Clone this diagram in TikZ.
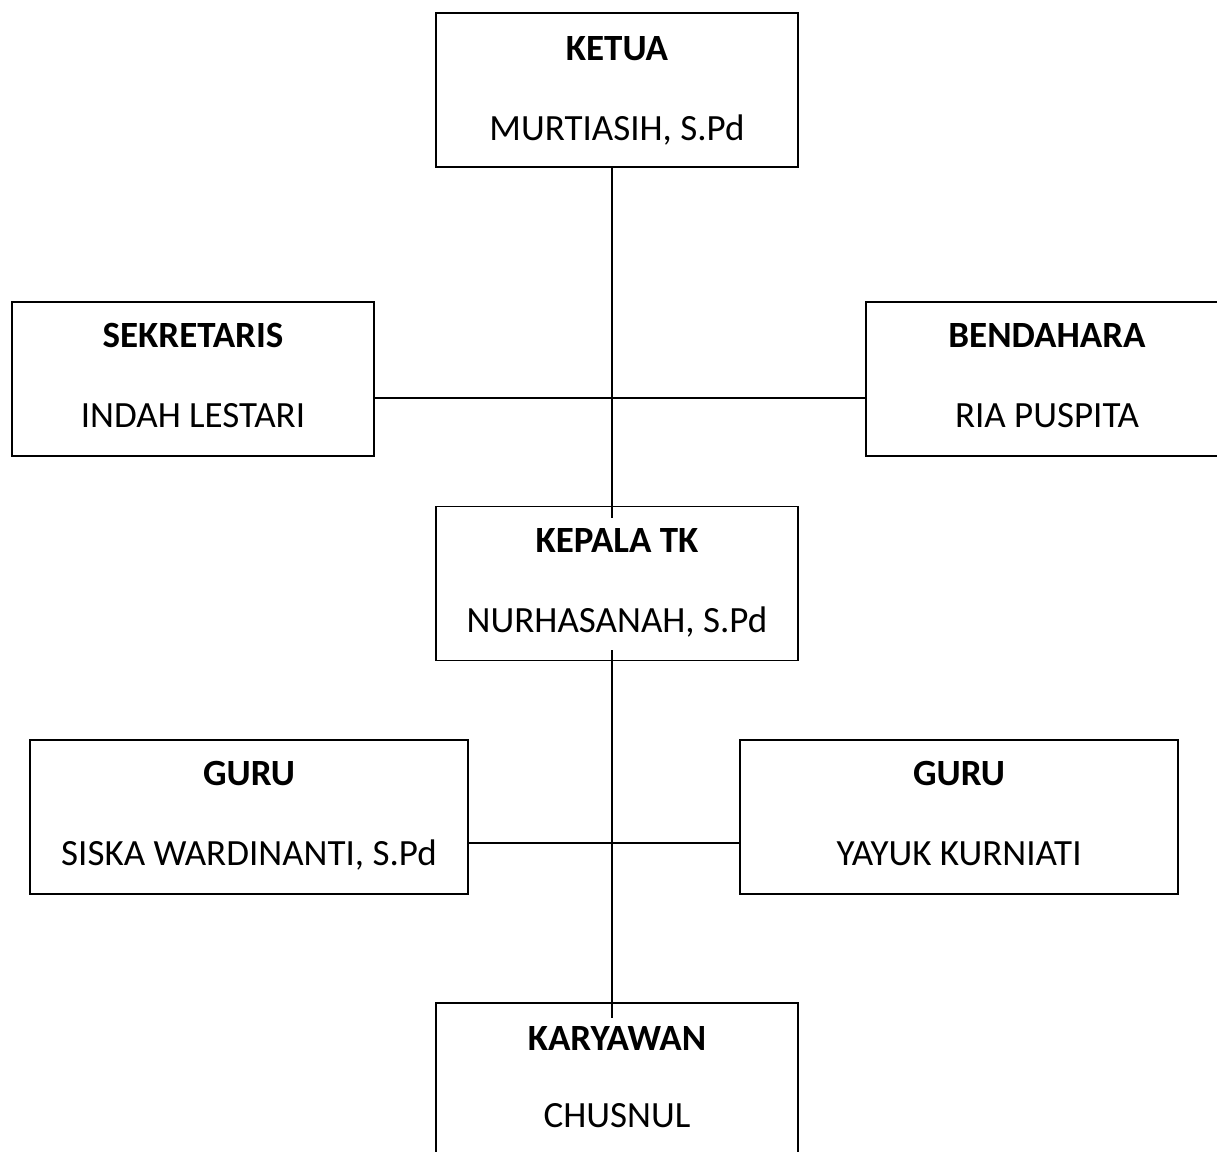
\documentclass[tikz,border=0pt]{standalone}
\usepackage{fontspec}
\setmainfont{Carlito}
\begin{document}
\begin{tikzpicture}[x=1pt,y=-1pt,
  orgbox/.style={draw=black,line width=1.6pt,fill=white,inner sep=0pt,minimum height=154pt},
  title/.style={font=\fontsize{37}{44}\selectfont\bfseries,anchor=base,inner sep=0pt},
  person/.style={font=\fontsize{37}{44}\selectfont,anchor=base,inner sep=0pt},
  link/.style={line width=1.6pt}]
\useasboundingbox (0,0) rectangle (1217,1151);
\clip (0,0) rectangle (1217,1151);
% boxes
\node[orgbox,minimum width=362pt] (ketua) at (617,90) {};
\node[orgbox,minimum width=362pt] (sek) at (193,379) {};
\node[orgbox,minimum width=362pt] (bend) at (1047,379) {};
\node[orgbox,minimum width=362pt] (kepala) at (617,583.5) {};
\node[orgbox,minimum width=438pt] (guru1) at (249,817) {};
\node[orgbox,minimum width=438pt] (guru2) at (959,817) {};
\node[orgbox,minimum width=362pt] (kary) at (617,1080) {};
% connectors
\draw[link] ([xshift=-5pt]ketua.south) -- ([xshift=-5pt,yshift=-12pt]kepala.north);
\draw[link] ([yshift=-19pt]sek.east) -- ([yshift=-19pt]bend.west);
\draw[link] ([xshift=-5pt,yshift=11pt]kepala.south) -- ([xshift=-5pt,yshift=-16pt]kary.north);
\draw[link] ([yshift=-26pt]guru1.east) -- ([yshift=-26pt]guru2.west);
% texts
\node[title] (t1) at (617,60) {KETUA};
\node[person] (p1) at (617,140) {MURTIASIH, S.Pd};
\node[title] (t2) at (193,347) {SEKRETARIS};
\node[person] (p2) at (193,427) {INDAH LESTARI};
\node[title] (t3) at (1047,347) {BENDAHARA};
\node[person] (p3) at (1047,427) {RIA PUSPITA};
\node[title] (t4) at (617,552) {KEPALA TK};
\node[person] (p4) at (617,632) {NURHASANAH, S.Pd};
\node[title] (t5) at (249,785) {GURU};
\node[person] (p5) at (249,865) {SISKA WARDINANTI, S.Pd};
\node[title] (t6) at (959,785) {GURU};
\node[person] (p6) at (959,865) {YAYUK KURNIATI};
\node[title] (t7) at (617,1050) {KARYAWAN};
\node[person] (p7) at (617,1127) {CHUSNUL};
\end{tikzpicture}
\end{document}
